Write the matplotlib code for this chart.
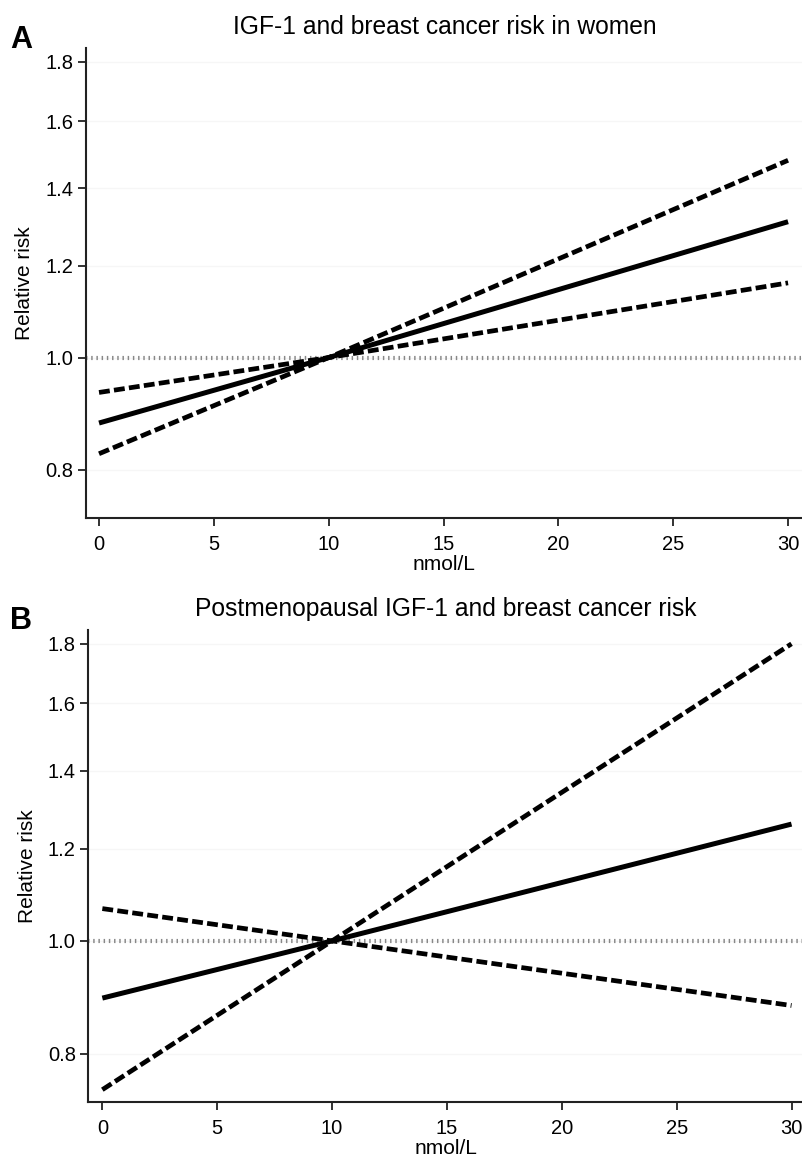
import numpy as np
import matplotlib
matplotlib.use("Agg")
import matplotlib.pyplot as plt

plt.rcParams['font.family'] = ['Liberation Sans', 'DejaVu Sans']

# IGF-1 concentration (nmol/L)
x = [0, 10, 30]

# panel A: all women
rr_a = [0.878, 1.0, 1.31]
ci1_a = [0.933, 1.0, 1.16]
ci2_a = [0.826, 1.0, 1.48]

# panel B: postmenopausal
rr_b = [0.893, 1.0, 1.26]
ci1_b = [1.066, 1.0, 0.88]
ci2_b = [0.745, 1.0, 1.80]

yticks = [0.8, 1.0, 1.2, 1.4, 1.6, 1.8]
xticks = [0, 5, 10, 15, 20, 25, 30]

titles = ["IGF-1 and breast cancer risk in women",
          "Postmenopausal IGF-1 and breast cancer risk"]
letters = ["A", "B"]

fig = plt.figure(figsize=(8.03, 11.57), dpi=100)
ax_a = fig.add_axes([0.107, 0.5523, 0.893, 0.4062])
ax_b = fig.add_axes([0.110, 0.0475, 0.890, 0.4080])

panels = [(ax_a, rr_a, ci1_a, ci2_a, -0.57, 30.65, 0.965),
          (ax_b, rr_b, ci1_b, ci2_b, -0.61, 30.5, 0.463)]

for i, (ax, rr, c1, c2, xl, xr, ly) in enumerate(panels):
    ax.set_yscale('log')
    ax.set_ylim(0.727, 1.85)
    ax.set_xlim(xl, xr)
    for t in yticks:
        ax.axhline(t, color='#f6f6f6', lw=1, zorder=0)
    ax.axhline(1.0, color='#888888', lw=3, linestyle=(0, (0.35, 0.9)), zorder=1)
    ax.plot(x, c1, color='black', lw=3.4, linestyle=(0, (2.3, 0.9)), zorder=3)
    ax.plot(x, c2, color='black', lw=3.4, linestyle=(0, (2.3, 0.9)), zorder=3)
    ax.plot(x, rr, color='black', lw=3.6, solid_capstyle='butt', zorder=4)

    ax.set_yticks(yticks)
    ax.set_yticklabels([f"{t:.1f}" for t in yticks])
    ax.yaxis.set_minor_locator(matplotlib.ticker.NullLocator())
    ax.set_xticks(xticks)
    ax.tick_params(axis='both', labelsize=14.5, length=6, width=1.3, color='#222222')
    ax.tick_params(axis='x', pad=6)
    ax.tick_params(axis='y', pad=3)

    for s in ['top', 'right']:
        ax.spines[s].set_visible(False)
    for s in ['left', 'bottom']:
        ax.spines[s].set_linewidth(1.5)
        ax.spines[s].set_color('#222222')

    ax.set_title(titles[i], fontsize=17.7, pad=10)
    ax.set_ylabel("Relative risk", fontsize=15, labelpad=8)
    ax.set_xlabel("nmol/L", fontsize=15, labelpad=1)
    fig.text(0.013, ly, letters[i], fontsize=22, fontweight='bold', va='center')

fig.savefig("out.png", dpi=100)
